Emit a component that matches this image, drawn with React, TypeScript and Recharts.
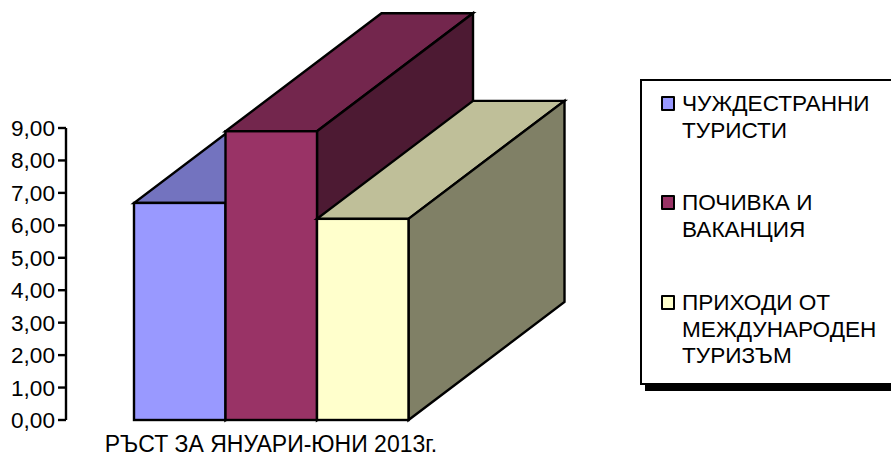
import { BarChart, Bar, XAxis, YAxis, Legend } from "recharts"

const CATEGORIES = ["РЪСТ ЗА ЯНУАРИ-ЮНИ 2013г."]
const SERIES_NAMES = ["ЧУЖДЕСТРАННИ ТУРИСТИ", "ПОЧИВКА И ВАКАНЦИЯ", "ПРИХОДИ ОТ МЕЖДУНАРОДЕН ТУРИЗЪМ"]
const SERIES_VALUES = [6.69, 8.9, 6.2]
const SERIES_COLORS = ["#9999FF", "#993366", "#FFFFCC"]
const TOP_COLORS = ["#7373BF", "#73264D", "#BFBF99"]
const SIDE_COLORS = ["#4D4D80", "#4D1A33", "#808066"]
const Y_TICKS = [0, 1, 2, 3, 4, 5, 6, 7, 8, 9]

const DATA = CATEGORIES.map((name) => ({
    name,
    s0: SERIES_VALUES[0],
    s1: SERIES_VALUES[1],
    s2: SERIES_VALUES[2],
}))

// fake 3D depth of the extruded bars
const DEPTH_X = 156
const DEPTH_Y = 118
const FONT = "'Liberation Sans', Arial, sans-serif"

const Box3D = (props: any) => {
    const { x, y, width, height, index } = props
    const i = index as number
    const r = x + width
    const b = y + height
    return (
        <g stroke="#000" strokeWidth={2.4} strokeLinejoin="miter">
            <polygon
                points={`${x},${y} ${r},${y} ${r + DEPTH_X},${y - DEPTH_Y} ${x + DEPTH_X},${y - DEPTH_Y}`}
                fill={TOP_COLORS[i]}
            />
            <polygon
                points={`${r},${y} ${r + DEPTH_X},${y - DEPTH_Y} ${r + DEPTH_X},${b - DEPTH_Y} ${r},${b}`}
                fill={SIDE_COLORS[i]}
            />
            <rect x={x} y={y} width={width} height={height} fill={SERIES_COLORS[i]} />
        </g>
    )
}

const CategoryTick = (props: any) => (
    <text x={props.x} y={452} textAnchor="middle" fontSize={23} fontFamily={FONT} fill="#000">
        {props.payload.value}
    </text>
)

const LegendBox = () => (
    <div
        style={{
            boxSizing: "border-box",
            width: 260,
            height: 306,
            border: "2.4px solid #000",
            background: "#fff",
            boxShadow: "5px 6px 0 #000",
            fontFamily: FONT,
            fontSize: 22.6,
            lineHeight: "26.5px",
            color: "#000",
        }}
    >
        {SERIES_NAMES.map((name, i) => (
            <div key={name} style={{ position: "absolute", left: 21, top: [12, 111, 211][i], display: "flex" }}>
                <span
                    style={{
                        boxSizing: "border-box",
                        width: 14,
                        height: 15,
                        marginTop: 5,
                        marginRight: 7,
                        border: "2.4px solid #000",
                        borderRadius: 1,
                        background: SERIES_COLORS[i],
                        flex: "none",
                    }}
                />
                <span style={{ width: 205 }}>{name}</span>
            </div>
        ))}
    </div>
)

export default function App() {
    return (
        <div style={{ position: "absolute", left: 0, top: 0, width: 891, height: 454, overflow: "hidden", background: "#fff" }}>
            <BarChart
                width={891}
                height={454}
                data={DATA}
                margin={{ top: 128, right: 415, bottom: 0, left: 0 }}
                barSize={91.5}
                barGap={0}
            >
                <XAxis dataKey="name" height={34} axisLine={false} tickLine={false} interval={0} tick={<CategoryTick />} />
                <YAxis
                    width={66}
                    domain={[0, 9]}
                    ticks={Y_TICKS}
                    interval={0}
                    tickSize={8}
                    tickMargin={3}
                    axisLine={{ stroke: "#000", strokeWidth: 2.4 }}
                    tickLine={{ stroke: "#000", strokeWidth: 2.4 }}
                    tick={{ fill: "#000", fontSize: 22.6, fontFamily: FONT }}
                    tickFormatter={(v: number) => v.toFixed(2).replace(".", ",")}
                />
                <Bar dataKey="s0" name={SERIES_NAMES[0]} shape={(p: any) => <Box3D {...p} index={0} />} isAnimationActive={false} />
                <Bar dataKey="s1" name={SERIES_NAMES[1]} shape={(p: any) => <Box3D {...p} index={1} />} isAnimationActive={false} />
                <Bar dataKey="s2" name={SERIES_NAMES[2]} shape={(p: any) => <Box3D {...p} index={2} />} isAnimationActive={false} />
                <Legend
                    layout="vertical"
                    align="center"
                    verticalAlign="middle"
                    content={<LegendBox />}
                    wrapperStyle={{ left: 640, top: 79, width: 260, height: 306 }}
                />
            </BarChart>
        </div>
    )
}
